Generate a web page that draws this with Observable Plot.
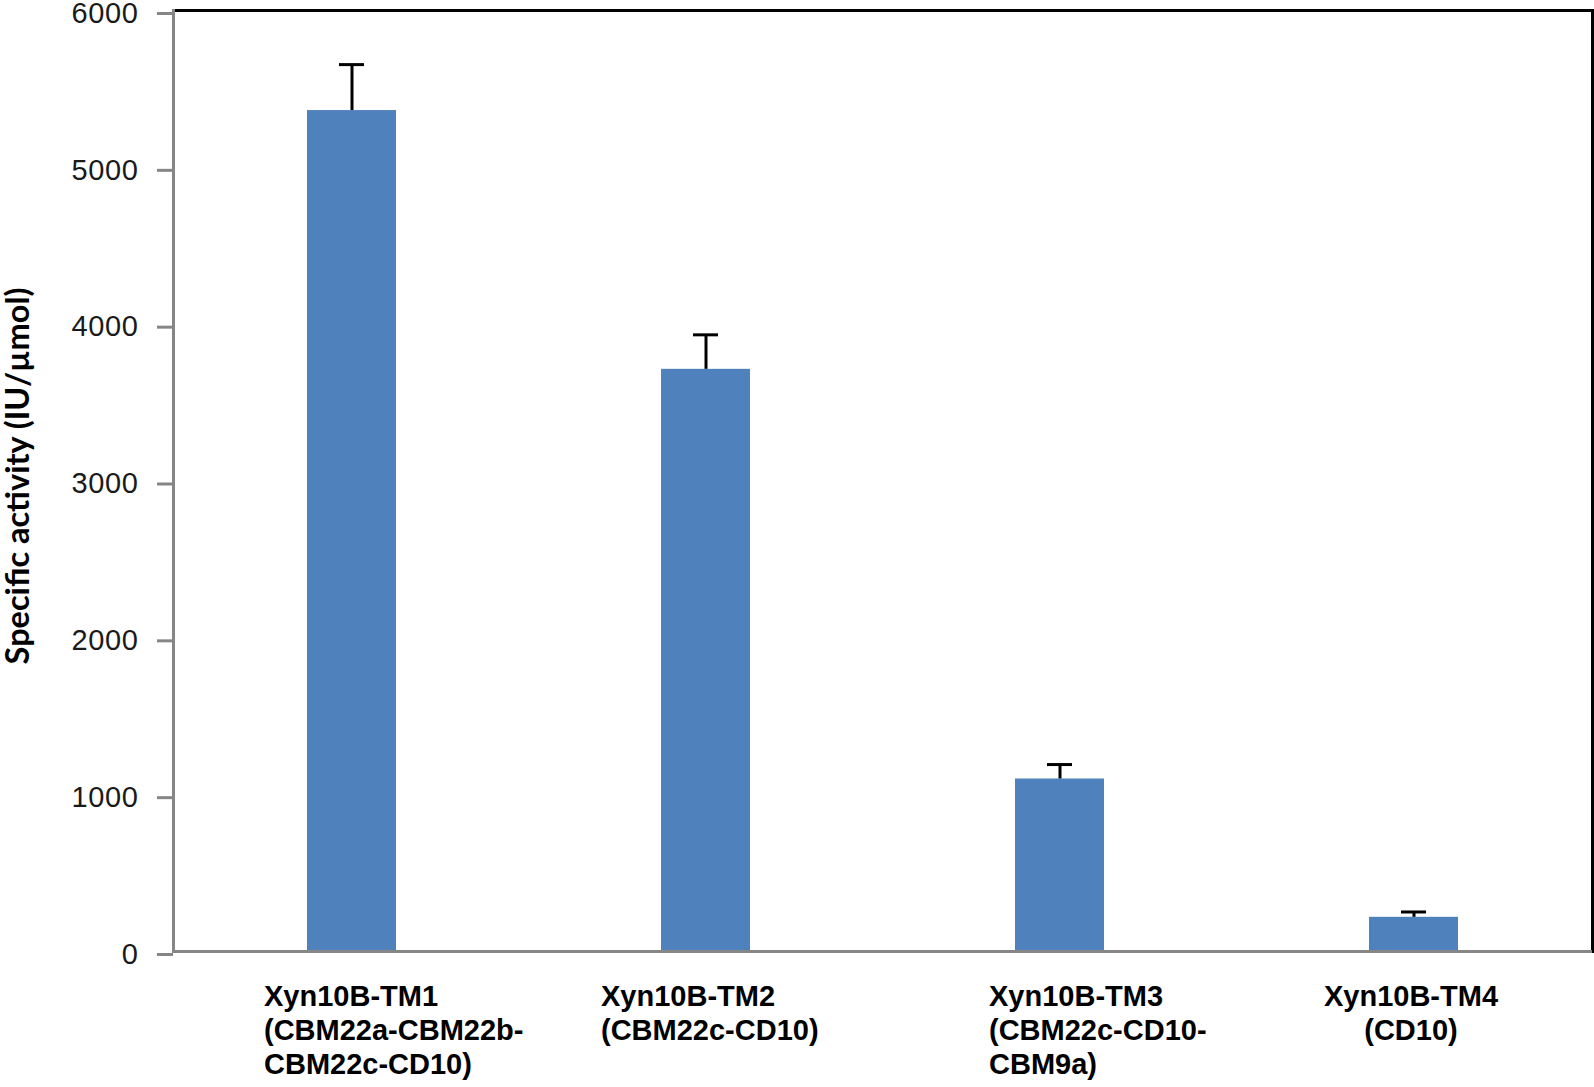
<!DOCTYPE html>
<html>
<head>
<meta charset="utf-8">
<script src="https://cdn.jsdelivr.net/npm/d3@7"></script>
<script src="https://cdn.jsdelivr.net/npm/@observablehq/plot@0.6"></script>
<style>
  html, body { margin: 0; padding: 0; background: #fff; }
  #chart svg { display: block; }
  .ytick text { letter-spacing: 0.6px; }
</style>
</head>
<body>
<div id="chart"></div>
<script>
// ---- data ----
const categories = ["Xyn10B-TM1", "Xyn10B-TM2", "Xyn10B-TM3", "Xyn10B-TM4"];
const tickLabels = [
  "Xyn10B-TM1\n(CBM22a-CBM22b-\nCBM22c-CD10)",
  "Xyn10B-TM2\n(CBM22c-CD10)",
  "Xyn10B-TM3\n(CBM22c-CD10-\nCBM9a)",
  "Xyn10B-TM4\n(CD10)"
];
const values = [5362, 3712, 1100, 218];
const errors = [293, 220, 92, 34];
const yTicks = [0, 1000, 2000, 3000, 4000, 5000, 6000];
const yLabel = "Specific activity (IU/µmol)";

// ---- layout / style ----
const labelLayout = [
  {dx: -88, anchor: "start"},
  {dx: -105, anchor: "start"},
  {dx: -71, anchor: "start"},
  {dx: -3, anchor: "middle"}
];

const rows = categories.map((c, i) => ({cat: c, value: values[i], err: errors[i], top: values[i] + errors[i]}));
const grey = "#868686";

const xAxes = categories.map((c, i) => Plot.axisX([c], {
  tickSize: 0,
  tickPadding: 30,
  textAnchor: labelLayout[i].anchor,
  dx: labelLayout[i].dx,
  fontWeight: "bold",
  fontSize: 29,
  lineHeight: 34 / 29,
  fill: "#000",
  label: null,
  tickFormat: () => tickLabels[i]
}));

const chart = Plot.plot({
  width: 1594,
  height: 1087,
  marginLeft: 173,
  marginRight: 2,
  marginTop: 10,
  marginBottom: 136,
  style: {fontFamily: "'Liberation Sans', Arial, sans-serif", background: "#fff", overflow: "visible"},
  x: {domain: categories, paddingInner: 0.75, paddingOuter: 0.375},
  y: {domain: [0, 6000]},
  marks: [
    Plot.frame({stroke: "#000", strokeWidth: 3}),
    Plot.frame({anchor: "left", stroke: grey, strokeWidth: 3}),
    Plot.barY(rows, {x: "cat", y: "value", fill: "#4F81BD"}),
    Plot.ruleX(rows, {x: "cat", y1: "value", y2: "top", stroke: "#000", strokeWidth: 3}),
    Plot.tickY(rows, {x: "cat", y: "top", stroke: "#000", strokeWidth: 3, insetLeft: 32, insetRight: 32}),
    Plot.ruleY([0], {stroke: grey, strokeWidth: 3}),
    Plot.axisY(yTicks, {
      tickSize: 16,
      tickPadding: 19,
      stroke: grey,
      strokeWidth: 3,
      fill: "#1a1a1a",
      fontSize: 29,
      dy: 3,
      label: null,
      className: "ytick",
      tickFormat: d => String(d)
    }),
    ...xAxes,
    Plot.text([yLabel], {
      frameAnchor: "left",
      textAnchor: "middle",
      lineAnchor: "middle",
      rotate: -90,
      dx: -155,
      dy: -5,
      fontFamily: "Lato, 'Open Sans', sans-serif",
      fontWeight: "bold",
      fontSize: 32.5,
      fill: "#000"
    })
  ]
});
document.getElementById("chart").appendChild(chart);
</script>
</body>
</html>
